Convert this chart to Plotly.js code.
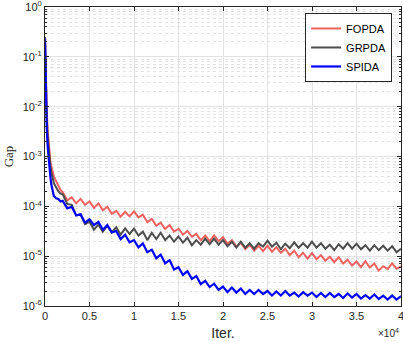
<!DOCTYPE html>
<html>
<head>
<meta charset="utf-8">
<script src="https://cdn.plot.ly/plotly-3.0.1.min.js"></script>
<style>
  html, body { margin: 0; padding: 0; background: #fff; }
  #chart { width: 403px; height: 341px; }
</style>
</head>
<body>
<div id="chart"></div>
<script>
// iteration counts (x)
const iters = [
  0, 50, 100, 150, 200, 300, 400, 500, 600, 700, 800, 900, 1000, 1250, 1500, 1750,
  2000, 2500, 3000, 3500, 4000, 4500, 5000, 5500, 6000, 6500, 7000, 7500, 8000, 8500, 9000, 9500,
  10000, 10500, 11000, 11500, 12000, 12500, 13000, 13500, 14000, 14500, 15000, 15500, 16000, 16500, 17000, 17500,
  18000, 18500, 19000, 19500, 20000, 20500, 21000, 21500, 22000, 22500, 23000, 23500, 24000, 24500, 25000, 25500,
  26000, 26500, 27000, 27500, 28000, 28500, 29000, 29500, 30000, 30500, 31000, 31500, 32000, 32500, 33000, 33500,
  34000, 34500, 35000, 35500, 36000, 36500, 37000, 37500, 38000, 38500, 39000, 39500, 40000
];

const fopda = [
  2.5e-1, 8e-2, 3e-2, 1.5e-2, 8e-3, 3.5e-3, 1.8e-3, 1.1e-3, 8e-4, 6.5e-4, 5.3e-4, 4.5e-4, 4e-4, 3.2e-4, 2.5e-4, 2.1e-4,
  1.9e-4, 1.32e-4, 1.51e-4, 1.15e-4, 1.41e-4, 1.07e-4, 1.26e-4, 9.3e-5, 1.15e-4, 8.3e-5, 9.8e-5, 7.1e-5, 8.1e-5, 6.2e-5, 7.8e-5, 6.3e-5,
  7.9e-5, 6.0e-5, 6.8e-5, 4.8e-5, 5.6e-5, 4.1e-5, 4.7e-5, 3.5e-5, 4.2e-5, 3.1e-5, 3.55e-5, 2.7e-5, 3.2e-5, 2.45e-5, 2.8e-5, 2.1e-5,
  2.6e-5, 2.0e-5, 2.6e-5, 2.0e-5, 2.4e-5, 1.78e-5, 2.1e-5, 1.55e-5, 1.86e-5, 1.38e-5, 1.7e-5, 1.29e-5, 1.62e-5, 1.26e-5, 1.62e-5, 1.23e-5,
  1.51e-5, 1.17e-5, 1.41e-5, 1.05e-5, 1.29e-5, 9.5e-6, 1.17e-5, 8.9e-6, 1.15e-5, 8.7e-6, 1.05e-5, 8.1e-6, 9.8e-6, 7.6e-6, 9.5e-6, 7.1e-6,
  8.5e-6, 6.5e-6, 7.8e-6, 6.0e-6, 7.9e-6, 5.9e-6, 7.1e-6, 5.1e-6, 6.3e-6, 5.5e-6, 7.2e-6, 5.6e-6, 6.2e-6
];

const grpda = [
  2.5e-1, 7e-2, 2.2e-2, 1e-2, 5.5e-3, 2.5e-3, 1.4e-3, 9e-4, 6.5e-4, 5e-4, 4e-4, 3.3e-4, 2.9e-4, 2.4e-4, 2.0e-4, 1.8e-4,
  1.74e-4, 1.12e-4, 1.07e-4, 6.6e-5, 6.8e-5, 4.4e-5, 4.9e-5, 3.4e-5, 4.3e-5, 3.1e-5, 4.1e-5, 3.0e-5, 3.8e-5, 2.7e-5, 3.6e-5, 2.8e-5,
  3.55e-5, 2.6e-5, 3.1e-5, 2.1e-5, 2.95e-5, 2.2e-5, 2.95e-5, 2.1e-5, 2.6e-5, 1.95e-5, 2.5e-5, 1.86e-5, 2.35e-5, 1.66e-5, 2.1e-5, 1.7e-5,
  2.24e-5, 1.74e-5, 2.24e-5, 1.7e-5, 2.1e-5, 1.58e-5, 1.95e-5, 1.48e-5, 1.95e-5, 1.48e-5, 1.82e-5, 1.41e-5, 1.82e-5, 1.55e-5, 2.04e-5, 1.55e-5,
  1.86e-5, 1.38e-5, 1.78e-5, 1.45e-5, 1.9e-5, 1.48e-5, 1.82e-5, 1.48e-5, 1.95e-5, 1.48e-5, 1.82e-5, 1.41e-5, 1.7e-5, 1.32e-5, 1.74e-5, 1.41e-5,
  1.82e-5, 1.41e-5, 1.78e-5, 1.38e-5, 1.66e-5, 1.29e-5, 1.66e-5, 1.32e-5, 1.62e-5, 1.29e-5, 1.58e-5, 1.2e-5, 1.41e-5
];

const spida = [
  2.3e-1, 5e-2, 1.3e-2, 6e-3, 3.5e-3, 1.6e-3, 9e-4, 6e-4, 4e-4, 2.8e-4, 2.2e-4, 1.8e-4, 1.6e-4, 1.45e-4, 1.4e-4, 1.25e-4,
  1.29e-4, 9.1e-5, 9.8e-5, 6.6e-5, 6.9e-5, 4.7e-5, 5.5e-5, 4.2e-5, 4.9e-5, 3.4e-5, 4.2e-5, 3.0e-5, 3.2e-5, 2.2e-5, 2.7e-5, 1.9e-5,
  2.1e-5, 1.5e-5, 1.8e-5, 1.2e-5, 1.35e-5, 9.1e-6, 1.07e-5, 7.2e-6, 8.3e-6, 5.4e-6, 6.0e-6, 4.2e-6, 5.0e-6, 3.5e-6, 4.0e-6, 2.75e-6,
  3.2e-6, 2.4e-6, 2.8e-6, 2.1e-6, 2.45e-6, 1.9e-6, 2.35e-6, 1.86e-6, 2.24e-6, 1.74e-6, 2.1e-6, 1.74e-6, 2.1e-6, 1.74e-6, 2.0e-6, 1.62e-6,
  1.95e-6, 1.62e-6, 2.0e-6, 1.62e-6, 1.86e-6, 1.55e-6, 1.9e-6, 1.62e-6, 1.86e-6, 1.51e-6, 1.82e-6, 1.51e-6, 1.82e-6, 1.51e-6, 1.74e-6, 1.45e-6,
  1.78e-6, 1.48e-6, 1.74e-6, 1.41e-6, 1.66e-6, 1.41e-6, 1.7e-6, 1.38e-6, 1.62e-6, 1.35e-6, 1.62e-6, 1.35e-6, 1.58e-6
];

const seriesNames = ['FOPDA', 'GRPDA', 'SPIDA'];
const seriesColors = ['#f06262', '#4d4d4d', '#0000ff'];

const xTickVals = [0, 5000, 10000, 15000, 20000, 25000, 30000, 35000, 40000];
const xTickText = ['0', '0.5', '1', '1.5', '2', '2.5', '3', '3.5', '4'];
const yTickVals = [1e-6, 1e-5, 1e-4, 1e-3, 1e-2, 1e-1, 1];
const yTickText = ['10<sup>-6</sup>', '10<sup>-5</sup>', '10<sup>-4</sup>', '10<sup>-3</sup>',
  '10<sup>-2</sup>', '10<sup>-1</sup>', '10<sup>0</sup>'];

// minor log ticks 2..9 in each decade
const yMinor = [];
for (let e = -6; e < 0; e++) {
  for (let m = 2; m <= 9; m++) yMinor.push(m * Math.pow(10, e));
}

const traces = [fopda, grpda, spida].map((ys, i) => ({
  x: iters,
  y: ys,
  type: 'scatter',
  mode: 'lines',
  name: seriesNames[i],
  line: { color: seriesColors[i], width: i === 2 ? 2.2 : 2 }
}));

const axisCommon = {
  showline: true,
  linecolor: '#262626',
  linewidth: 1,
  mirror: 'ticks',
  ticks: 'inside',
  ticklen: 4,
  tickcolor: '#262626',
  zeroline: false,
  gridcolor: '#e3e3e3',
  ticklabeloverflow: 'allow',
  tickfont: { family: 'Liberation Sans, Arial, sans-serif', size: 11, color: '#262626' }
};

const layout = {
  width: 403,
  height: 341,
  paper_bgcolor: '#ffffff',
  plot_bgcolor: '#ffffff',
  margin: { l: 45, r: 2, t: 7, b: 35 },
  showlegend: true,
  legend: {
    x: 0.975, y: 0.98, xanchor: 'right', yanchor: 'top',
    bgcolor: '#ffffff', bordercolor: '#262626', borderwidth: 1,
    font: { family: 'Liberation Sans, Arial, sans-serif', size: 11, color: '#000' },
    tracegroupgap: 0
  },
  xaxis: {
    ...axisCommon,
    range: [0, 40000],
    tickmode: 'array',
    tickvals: xTickVals,
    ticktext: xTickText,
    title: { text: 'Iter.', font: { family: 'Liberation Sans, Arial, sans-serif', size: 14, color: '#262626' }, standoff: 6 }
  },
  yaxis: {
    ...axisCommon,
    type: 'log',
    range: [-6, 0],
    tickmode: 'array',
    tickvals: yTickVals,
    ticktext: yTickText,
    minor: {
      tickmode: 'array',
      tickvals: yMinor,
      ticks: 'inside',
      ticklen: 2,
      tickcolor: '#262626',
      showgrid: true,
      gridcolor: '#e4e4e4',
      griddash: 'dot'
    },
    title: { text: 'Gap', font: { family: 'Liberation Serif, Times New Roman, serif', size: 13, color: '#262626' }, standoff: 6 }
  },
  annotations: [{
    xref: 'paper', yref: 'paper', x: 1, y: -0.065, xanchor: 'right', yanchor: 'top',
    text: '×10<sup>4</sup>', showarrow: false,
    font: { family: 'Liberation Sans, Arial, sans-serif', size: 10, color: '#262626' }
  }]
};

Plotly.newPlot('chart', traces, layout, { displayModeBar: false, responsive: false });
</script>
</body>
</html>
